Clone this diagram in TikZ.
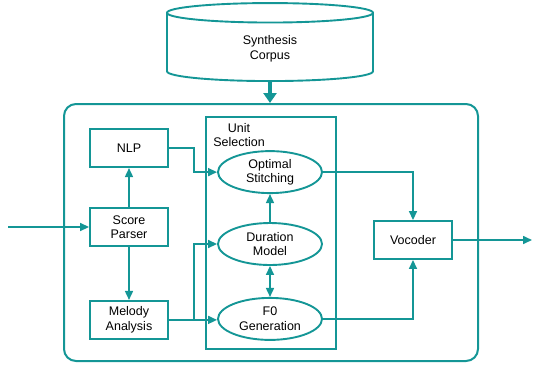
\documentclass[tikz,border=0pt]{standalone}
\usepackage{fontspec}
\setmainfont{Liberation Sans}
\usetikzlibrary{positioning,shapes.geometric,arrows.meta}
\definecolor{tealline}{RGB}{20,150,150}

\begin{document}
\begin{tikzpicture}[x=1pt,y=-1pt,font=\fontsize{12.5}{14.5}\selectfont,
	box/.style={rectangle,draw=tealline,line width=1.9pt,minimum width=78pt,minimum height=38pt,align=center},
	oval/.style={ellipse,draw=tealline,line width=1.9pt,minimum width=104pt,minimum height=42pt,inner sep=0pt,align=center},
	flow/.style={draw=tealline,line width=1.6pt,-{Triangle[length=9pt,width=8pt]}}]
		\useasboundingbox (0,0) rectangle (533,368);

		\node[cylinder,shape border rotate=90,aspect=0.32,draw=tealline,line width=1.9pt,minimum width=206pt,minimum height=78pt,align=center,anchor=south]	(corpus)	at (270,82)	{Synthesis\\Corpus};
		\node[draw=tealline,line width=2pt,rounded corners=12pt,minimum width=414pt,minimum height=257pt]	(frame)	at (271,232.5)	{};
		\node[draw=tealline,line width=1.9pt,minimum width=130pt,minimum height=232pt]	(unit)	at (271,233)	{};
		\node[align=center]									(unitlbl)	at (239,135)	{Unit\\Selection};

		\node[box]											(parser)	at (129,227)	{Score\\Parser};
		\node[box,node distance=39pt,above=of parser]		(nlp)		{NLP};
		\node[box,node distance=53pt,below=of parser]		(melody)	{Melody\\Analysis};

		\node[oval]											(dur)		at (270,244)	{Duration\\Model};
		\node[oval,node distance=28pt,above=of dur]			(opt)		{Optimal\\Stitching};
		\node[oval,node distance=31pt,below=of dur]			(f0)		{F0\\Generation};

		\node[box]											(vocoder)	at (413,240)	{Vocoder};

		\coordinate											(in)		at (8,227);
		\coordinate											(out)		at (532,240);

		\draw[draw=tealline,line width=4pt,-{Triangle[length=10pt,width=13pt]}] (corpus.south) -- (corpus.south |- frame.north);
		\draw[flow] (in) -- (parser);
		\draw[flow] (parser) -- (nlp);
		\draw[flow] (parser) -- (melody);
		\draw[flow] (nlp.east) -- ++(25,0) |- (opt.west);
		\draw[flow] (melody.east) -- ++(25,0) |- (dur.west);
		\draw[flow] (melody.east) -- (melody.east -| f0.west);
		\draw[flow] (dur) -- (opt);
		\draw[flow,{Triangle[length=9pt,width=8pt]}-{Triangle[length=9pt,width=8pt]}] (dur) -- (f0);
		\draw[flow] (opt.east) -| (vocoder.north);
		\draw[flow] (f0.east) -| (vocoder.south);
		\draw[flow] (vocoder) -- (out);
	\end{tikzpicture}
\end{document}
